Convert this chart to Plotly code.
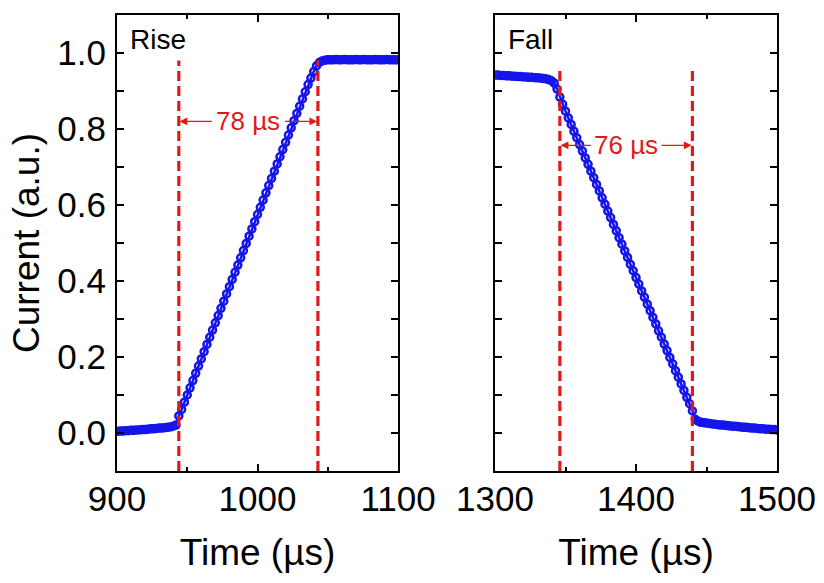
import plotly.graph_objects as go

# ---------------- data ----------------
rise_time = list(range(900, 1101, 2))
rise_current = [
    0.004, 0.005, 0.005, 0.006, 0.006, 0.007, 0.007, 0.008, 0.008, 0.009, 0.009,
    0.010, 0.011, 0.011, 0.012, 0.013, 0.013, 0.014, 0.015, 0.016, 0.018, 0.021,
    0.045, 0.062, 0.081, 0.100, 0.119, 0.138, 0.157, 0.176, 0.195, 0.214, 0.233,
    0.252, 0.271, 0.290, 0.309, 0.328, 0.347, 0.366, 0.385, 0.404, 0.423, 0.442,
    0.461, 0.480, 0.499, 0.518, 0.537, 0.556, 0.575, 0.594, 0.613, 0.632, 0.651,
    0.670, 0.689, 0.708, 0.727, 0.746, 0.765, 0.784, 0.803, 0.822, 0.841, 0.860,
    0.879, 0.898, 0.917, 0.934, 0.951, 0.966, 0.975, 0.979, 0.981,
    0.982, 0.982, 0.982, 0.983, 0.982, 0.982, 0.983, 0.982, 0.982, 0.982, 0.983,
    0.982, 0.982, 0.983, 0.982, 0.982, 0.982, 0.983, 0.982, 0.982, 0.982, 0.983,
    0.982, 0.982, 0.982, 0.982,
]
fall_time = list(range(1300, 1501, 2))
fall_current = [
    0.942, 0.942, 0.941, 0.941, 0.940, 0.940, 0.939, 0.939, 0.938, 0.938, 0.937,
    0.937, 0.936, 0.936, 0.935, 0.935, 0.934, 0.933, 0.932,
    0.930, 0.927, 0.921, 0.905, 0.884, 0.865,
    0.847, 0.829, 0.812, 0.794, 0.777, 0.759, 0.742, 0.724, 0.707, 0.689, 0.672,
    0.654, 0.637, 0.619, 0.602, 0.584, 0.567, 0.549, 0.532, 0.514, 0.497, 0.479,
    0.462, 0.444, 0.427, 0.409, 0.392, 0.374, 0.357, 0.339, 0.322, 0.304, 0.287,
    0.269, 0.252, 0.234, 0.217, 0.199, 0.182, 0.164, 0.147, 0.129, 0.112, 0.094,
    0.077, 0.058, 0.036, 0.031, 0.028,
    0.027, 0.026, 0.025, 0.024, 0.023, 0.022, 0.021, 0.021, 0.020, 0.019, 0.018,
    0.018, 0.017, 0.016, 0.015, 0.015, 0.014, 0.013, 0.013, 0.012, 0.011, 0.011,
    0.010, 0.010, 0.009, 0.009, 0.008,
]

rise_marks = [944, 1043]
rise_mark_top = 0.98
rise_arrow_y = 0.82
rise_label = "78 µs"
rise_tag = "Rise"

fall_marks = [1346, 1440]
fall_mark_top = 0.96
fall_arrow_y = 0.757
fall_label = "76 µs"
fall_tag = "Fall"

y_range = [-0.1, 1.1]
rise_range = [900, 1100]
fall_range = [1300, 1500]

# ---------------- style ----------------
FONT = "Arial, Liberation Sans, sans-serif"
BLUE = "rgb(20,20,235)"
RED = "rgb(225,25,25)"

fig = go.Figure()

def add_curve(x, y, xa, ya):
    fig.add_trace(go.Scatter(
        x=x, y=y, xaxis=xa, yaxis=ya, mode="lines+markers",
        line=dict(color=BLUE, width=2.5),
        marker=dict(symbol="circle-open", size=7, color=BLUE,
                    line=dict(color=BLUE, width=2.5)),
        showlegend=False, cliponaxis=True))

def add_marks(marks, top, xa, ya):
    for m in marks:
        fig.add_trace(go.Scatter(
            x=[m, m], y=[y_range[0], top], xaxis=xa, yaxis=ya, mode="lines",
            line=dict(color=RED, width=3.2, dash="10px,5px"),
            showlegend=False, hoverinfo="skip"))

add_curve(rise_time, rise_current, "x", "y")
add_curve(fall_time, fall_current, "x2", "y2")
add_marks(rise_marks, rise_mark_top, "x", "y")
add_marks(fall_marks, fall_mark_top, "x2", "y2")

def add_arrow_label(marks, yv, label, gap, xref, yref):
    a, b = marks
    mid = (a + b) / 2
    for head, tail in ((a + 0.5, mid - gap), (b - 0.5, mid + gap)):
        fig.add_annotation(
            x=head, y=yv, ax=tail, ay=yv, xref=xref, yref=yref,
            axref=xref, ayref=yref, text="", showarrow=True,
            arrowhead=2, arrowsize=1.3, arrowwidth=1.2, arrowcolor=RED)
    fig.add_annotation(
        x=mid, y=yv, xref=xref, yref=yref, text=label, showarrow=False,
        font=dict(family=FONT, size=26, color=RED))

add_arrow_label(rise_marks, rise_arrow_y, rise_label, 25, "x", "y")
add_arrow_label(fall_marks, fall_arrow_y, fall_label, 24, "x2", "y2")

fig.add_annotation(x=0.04, y=0.985, xref="x domain", yref="y domain",
                   text=rise_tag, showarrow=False, xanchor="left", yanchor="top",
                   font=dict(family=FONT, size=28, color="black"))
fig.add_annotation(x=0.04, y=0.985, xref="x2 domain", yref="y2 domain",
                   text=fall_tag, showarrow=False, xanchor="left", yanchor="top",
                   font=dict(family=FONT, size=28, color="black"))

axis_common = dict(
    showline=True, linecolor="black", linewidth=2, mirror="ticks",
    ticks="inside", ticklen=7, tickwidth=1.5, tickcolor="black",
    showgrid=False, zeroline=False, automargin=False,
    tickfont=dict(family=FONT, size=35, color="black"),
)

xdom1 = [117 / 824, 398 / 824]
xdom2 = [495 / 824, 777 / 824]
ydom = [1 - 471 / 583, 1 - 15 / 583]

TITLE_FONT = dict(family=FONT, size=37, color="black")

fig.update_layout(
    width=824, height=583,
    margin=dict(l=0, r=0, t=0, b=0, autoexpand=False),
    paper_bgcolor="white", plot_bgcolor="white",
    font=dict(family=FONT, color="black"),
    xaxis=dict(domain=xdom1, range=rise_range, anchor="y",
               tickvals=[900, 1000, 1100],
               minor=dict(tickvals=[950, 1050], ticks="inside", ticklen=4,
                          tickwidth=1.5, tickcolor="black"),
               ticklabelstandoff=-4,
               title=dict(text="Time (µs)", standoff=22, font=TITLE_FONT),
               **axis_common),
    yaxis=dict(domain=ydom, range=y_range, anchor="x",
               tickvals=[0, 0.2, 0.4, 0.6, 0.8, 1.0],
               ticktext=["0.0", "0.2", "0.4", "0.6", "0.8", "1.0"],
               minor=dict(tickvals=[-0.1, 0.1, 0.3, 0.5, 0.7, 0.9], ticks="inside",
                          ticklen=7, tickwidth=1.5, tickcolor="black"),
               ticklabelstandoff=2,
               title=dict(text="Current (a.u.)", standoff=6, font=TITLE_FONT),
               **axis_common),
    xaxis2=dict(domain=xdom2, range=fall_range, anchor="y2",
                tickvals=[1300, 1400, 1500],
                minor=dict(tickvals=[1350, 1450], ticks="inside", ticklen=4,
                           tickwidth=1.5, tickcolor="black"),
                ticklabelstandoff=-4,
                title=dict(text="Time (µs)", standoff=22, font=TITLE_FONT),
                **axis_common),
    yaxis2=dict(domain=ydom, range=y_range, anchor="x2",
                tickvals=[0, 0.2, 0.4, 0.6, 0.8, 1.0],
                minor=dict(tickvals=[-0.1, 0.1, 0.3, 0.5, 0.7, 0.9], ticks="inside",
                           ticklen=7, tickwidth=1.5, tickcolor="black"),
                showticklabels=False,
                **axis_common),
)

fig.write_html("out.html")
